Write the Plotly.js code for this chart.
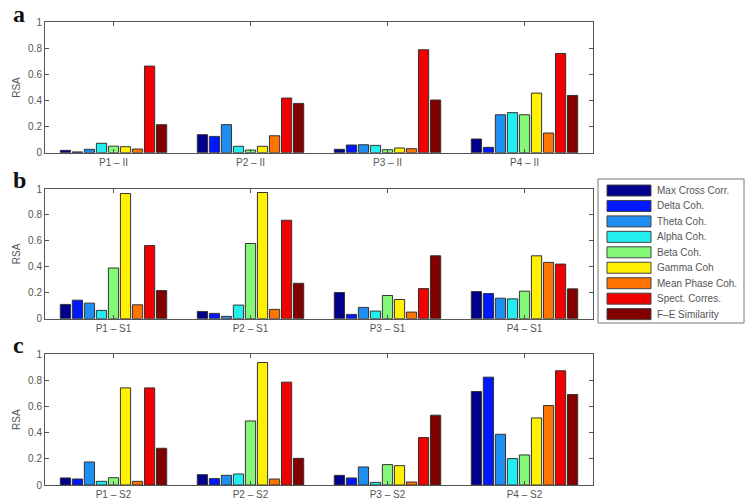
<!DOCTYPE html>
<html>
<head>
<meta charset="utf-8">
<script src="https://cdn.plot.ly/plotly-3.0.1.min.js"></script>
<style>
  html, body { margin: 0; padding: 0; background: #fff; }
  #chart { width: 750px; height: 500px; }
</style>
</head>
<body>
<div id="chart"></div>
<script>
// measures (one bar colour each)
var measures = ["Max Cross Corr.", "Delta Coh.", "Theta Coh.", "Alpha Coh.", "Beta Coh.",
                "Gamma Coh", "Mean Phase Coh.", "Spect. Corres.", "F\u2013E Similarity"];
var colors = ["#00008c", "#0018ff", "#1e8ff0", "#22eef0", "#84f878",
              "#fff000", "#ff7300", "#f20000", "#820000"];

// group labels per panel
var groupsA = ["P1 \u2013 II", "P2 \u2013 II", "P3 \u2013 II", "P4 \u2013 II"];
var groupsB = ["P1 \u2013 S1", "P2 \u2013 S1", "P3 \u2013 S1", "P4 \u2013 S1"];
var groupsC = ["P1 \u2013 S2", "P2 \u2013 S2", "P3 \u2013 S2", "P4 \u2013 S2"];

// RSA values, one row per group, one column per measure
var rsaA = [
  [0.018, 0.006, 0.026, 0.072, 0.050, 0.046, 0.028, 0.664, 0.215],
  [0.138, 0.125, 0.215, 0.049, 0.020, 0.049, 0.130, 0.419, 0.378],
  [0.026, 0.059, 0.061, 0.056, 0.023, 0.036, 0.031, 0.789, 0.404],
  [0.105, 0.041, 0.291, 0.307, 0.291, 0.457, 0.151, 0.761, 0.439]
];
var rsaB = [
  [0.110, 0.143, 0.120, 0.064, 0.391, 0.965, 0.107, 0.564, 0.217],
  [0.056, 0.041, 0.018, 0.105, 0.580, 0.973, 0.072, 0.759, 0.273],
  [0.202, 0.033, 0.087, 0.059, 0.179, 0.148, 0.051, 0.232, 0.485],
  [0.209, 0.194, 0.158, 0.153, 0.212, 0.485, 0.434, 0.421, 0.230]
];
var rsaC = [
  [0.054, 0.046, 0.176, 0.028, 0.056, 0.743, 0.028, 0.743, 0.281],
  [0.079, 0.049, 0.074, 0.084, 0.490, 0.937, 0.046, 0.787, 0.204],
  [0.074, 0.054, 0.138, 0.020, 0.156, 0.148, 0.023, 0.363, 0.534],
  [0.715, 0.825, 0.388, 0.202, 0.230, 0.513, 0.608, 0.874, 0.692]
];

var panels = [
  {groups: groupsA, rsa: rsaA, xa: "x", ya: "y"},
  {groups: groupsB, rsa: rsaB, xa: "x2", ya: "y2"},
  {groups: groupsC, rsa: rsaC, xa: "x3", ya: "y3"}
];

var data = [];
panels.forEach(function(p) {
  measures.forEach(function(m, j) {
    data.push({
      type: "bar",
      name: m,
      x: p.groups,
      y: p.rsa.map(function(row) { return row[j]; }),
      xaxis: p.xa,
      yaxis: p.ya,
      showlegend: false,
      marker: {color: colors[j], line: {color: "#333", width: 1}},
      hoverinfo: "skip"
    });
  });
});

function xAxis(anchor, dom) {
  return {
    domain: dom, anchor: anchor, type: "category",
    showline: true, linecolor: "#555", linewidth: 1, mirror: "ticks",
    ticks: "inside", ticklen: 4, tickcolor: "#555",
    tickfont: {size: 10, color: "#555"}, showgrid: false, fixedrange: true
  };
}
function yAxis(anchor, dom) {
  return {
    domain: dom, anchor: anchor, range: [0, 1], dtick: 0.2,
    showline: true, linecolor: "#555", linewidth: 1, mirror: "ticks",
    ticks: "inside", ticklen: 4, tickcolor: "#555",
    tickfont: {size: 10, color: "#555"}, showgrid: false, zeroline: false,
    title: {text: "RSA", font: {size: 10, color: "#555"}, standoff: 5},
    fixedrange: true
  };
}

// legend drawn by hand (matlab-style wide swatches), in pixel units
function px(v) { return v / 750; }
function py(v) { return 1 - v / 500; }
var shapes = [{type: "rect", xref: "paper", yref: "paper",
  x0: px(598), x1: px(744), y0: py(179), y1: py(323),
  line: {color: "#777", width: 1}, fillcolor: "#fff"}];
var annotations = [];
measures.forEach(function(m, j) {
  var cy = 190.5 + j * 15.45;
  shapes.push({type: "rect", xref: "paper", yref: "paper",
    x0: px(607), x1: px(651), y0: py(cy + 5.5), y1: py(cy - 5.5),
    line: {color: "#444", width: 1}, fillcolor: colors[j]});
  annotations.push({text: m, xref: "paper", yref: "paper", x: px(655), y: py(cy),
    xanchor: "left", yanchor: "middle", showarrow: false,
    font: {size: 10, color: "#555"}});
});

// panel letters
[["a", 14], ["b", 180], ["c", 345]].forEach(function(l) {
  annotations.push({text: "<b>" + l[0] + "</b>", xref: "paper", yref: "paper",
    x: px(11), y: py(l[1]), xanchor: "left", yanchor: "middle", showarrow: false,
    font: {family: "Liberation Serif, Times New Roman, serif", size: 24, color: "#111"}});
});

var xd = [45 / 750, 593 / 750];
var layout = {
  width: 750, height: 500,
  margin: {l: 0, r: 0, t: 0, b: 0},
  paper_bgcolor: "#fff", plot_bgcolor: "#fff",
  font: {family: "Liberation Sans, Arial, sans-serif", color: "#444"},
  barmode: "group", bargap: 0.21, bargroupgap: 0.15,
  showlegend: false,
  xaxis: xAxis("y", xd), yaxis: yAxis("x", [1 - 152.7 / 500, 1 - 22.3 / 500]),
  xaxis2: xAxis("y2", xd), yaxis2: yAxis("x2", [1 - 318.7 / 500, 1 - 189 / 500]),
  xaxis3: xAxis("y3", xd), yaxis3: yAxis("x3", [1 - 485 / 500, 1 - 354.3 / 500]),
  shapes: shapes,
  annotations: annotations
};

Plotly.newPlot("chart", data, layout, {displayModeBar: false, staticPlot: true});
</script>
</body>
</html>
